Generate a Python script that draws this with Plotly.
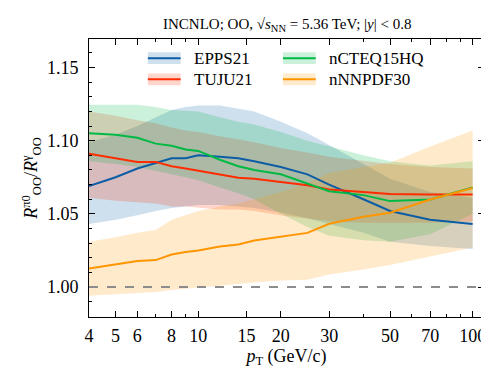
"""R_OO ratio pi0/gamma vs pT for four nPDF sets (INCNLO, OO at 5.36 TeV)."""

import plotly.graph_objects as go

PT = [4, 5, 6, 7, 8, 9, 10, 12, 14, 16, 20, 25, 30, 40, 50, 70, 100]

EPPS21 = [1.069, 1.075, 1.081, 1.085, 1.088, 1.088, 1.090, 1.089, 1.088, 1.086,
          1.082, 1.077, 1.070, 1.060, 1.052, 1.046, 1.043]
EPPS21_HI = [1.099, 1.104, 1.110, 1.116, 1.121, 1.123, 1.124, 1.124, 1.122, 1.120,
             1.113, 1.105, 1.097, 1.084, 1.074, 1.065, 1.061]
EPPS21_LO = [1.043, 1.046, 1.049, 1.052, 1.054, 1.055, 1.056, 1.056, 1.055, 1.054,
             1.051, 1.047, 1.043, 1.037, 1.031, 1.028, 1.026]

TUJU21 = [1.091, 1.088, 1.0855, 1.0855, 1.0825, 1.081, 1.0795, 1.0765, 1.0746, 1.074,
          1.0718, 1.0696, 1.0666, 1.0648, 1.0636, 1.0632, 1.0632]
TUJU21_HI = [1.120, 1.117, 1.114, 1.112, 1.109, 1.107, 1.106, 1.103, 1.101, 1.099,
             1.095, 1.092, 1.089, 1.086, 1.084, 1.082, 1.081]
TUJU21_LO = [1.061, 1.059, 1.058, 1.057, 1.055, 1.055, 1.054, 1.053, 1.053, 1.052,
             1.049, 1.047, 1.045, 1.044, 1.044, 1.044, 1.045]

NCTEQ = [1.105, 1.104, 1.102, 1.098, 1.0966, 1.094, 1.093, 1.087, 1.0825, 1.080,
         1.077, 1.0705, 1.0655, 1.0628, 1.0587, 1.0598, 1.068]
NCTEQ_HI = [1.1246, 1.1246, 1.1245, 1.123, 1.121, 1.1205, 1.120, 1.116, 1.113, 1.111,
            1.106, 1.100, 1.096, 1.090, 1.086, 1.083, 1.086]
NCTEQ_LO = [1.086, 1.084, 1.082, 1.079, 1.077, 1.075, 1.073, 1.068, 1.064, 1.060,
            1.050, 1.041, 1.035, 1.032, 1.031, 1.036, 1.050]

NNNPDF = [1.0127, 1.0152, 1.0177, 1.0184, 1.0222, 1.0239, 1.025, 1.0277, 1.0291, 1.0318,
          1.0343, 1.037, 1.0432, 1.048, 1.0507, 1.0598, 1.0677]
NNNPDF_HI = [1.031, 1.034, 1.037, 1.039, 1.046, 1.049, 1.052, 1.055, 1.057, 1.060,
             1.065, 1.071, 1.078, 1.082, 1.085, 1.096, 1.107]
NNNPDF_LO = [0.994, 0.995, 0.996, 0.9966, 0.998, 0.999, 0.9995, 1.001, 1.002, 1.003,
             1.0045, 1.005, 1.0086, 1.012, 1.015, 1.021, 1.027]

REFERENCE = 1.0
X_TICKS = [4, 5, 6, 8, 10, 15, 20, 30, 50, 70, 100]
X_MINOR = [7, 9, 40, 60, 80, 90]

# (name, central, upper, lower, rgb)
SERIES = [
    ("EPPS21", EPPS21, EPPS21_HI, EPPS21_LO, (12, 93, 165)),
    ("TUJU21", TUJU21, TUJU21_HI, TUJU21_LO, (255, 44, 0)),
    ("nCTEQ15HQ", NCTEQ, NCTEQ_HI, NCTEQ_LO, (0, 185, 69)),
    ("nNNPDF30", NNNPDF, NNNPDF_HI, NNNPDF_LO, (255, 149, 0)),
]

FONT = "Liberation Serif"


def rgba(c, a):
    return f"rgba({c[0]},{c[1]},{c[2]},{a})"


fig = go.Figure()

for name, mid, hi, lo, c in SERIES:
    fig.add_trace(
        go.Scatter(
            x=PT + PT[::-1],
            y=hi + lo[::-1],
            fill="toself",
            fillcolor=rgba(c, 0.2),
            line={"width": 0},
            mode="lines",
            hoverinfo="skip",
            showlegend=False,
        )
    )

for name, mid, hi, lo, c in SERIES:
    fig.add_trace(
        go.Scatter(
            x=PT,
            y=mid,
            mode="lines",
            line={"color": rgba(c, 1), "width": 2},
            name=name,
            showlegend=False,
            hovertemplate=f"{name}<br>pT=%{{x}}<br>ratio=%{{y:.4f}}<extra></extra>",
        )
    )

fig.add_hline(y=REFERENCE, line={"color": "#8c8c8c", "width": 1.8, "dash": "dash"})

# hand-drawn legend: band patch + line, two columns
legend_slots = {
    "EPPS21": (0.149, 0.931),
    "TUJU21": (0.149, 0.855),
    "nCTEQ15HQ": (0.491, 0.931),
    "nNNPDF30": (0.491, 0.855),
}
for name, mid, hi, lo, c in SERIES:
    lx, ly = legend_slots[name]
    fig.add_shape(type="rect", xref="paper", yref="paper",
                  x0=lx, x1=lx + 0.083, y0=ly - 0.021, y1=ly + 0.021,
                  fillcolor=rgba(c, 0.2), line={"width": 0})
    fig.add_shape(type="line", xref="paper", yref="paper",
                  x0=lx, x1=lx + 0.083, y0=ly, y1=ly,
                  line={"color": rgba(c, 1), "width": 2})
    fig.add_annotation(x=lx + 0.111, y=ly, xref="paper", yref="paper",
                       text=name, showarrow=False, xanchor="left", yanchor="middle",
                       font={"family": FONT, "size": 17, "color": "black"})

axis_common = {
    "showline": True,
    "linecolor": "black",
    "linewidth": 1,
    "mirror": "ticks",
    "ticks": "inside",
    "ticklen": 6,
    "tickwidth": 1,
    "tickcolor": "black",
    "showgrid": False,
    "zeroline": False,
    "tickfont": {"family": FONT, "size": 18, "color": "black"},
}

fig.update_layout(
    width=489,
    height=367,
    margin={"l": 81, "r": 11, "t": 31, "b": 58},
    paper_bgcolor="white",
    plot_bgcolor="white",
    title={
        "text": "INCNLO; OO, √<i>s</i><sub>NN</sub> = 5.36 TeV; |<i>y</i>| &lt; 0.8",
        "x": 0.571,
        "xanchor": "center",
        "y": 0.958,
        "yanchor": "middle",
        "font": {"family": FONT, "size": 15, "color": "black"},
    },
    xaxis={
        **axis_common,
        "type": "log",
        "range": [0.60206, 2.04139],
        "tickvals": X_TICKS,
        "ticktext": [str(v) for v in X_TICKS],
        "ticklabelstandoff": 2,
        "minor": {"tickvals": X_MINOR, "ticks": "inside", "ticklen": 3,
                  "tickcolor": "black", "showgrid": False},
        "title": {"text": "<i>p</i><sub>T</sub> (GeV/c)",
                  "font": {"family": FONT, "size": 18, "color": "black"},
                  "standoff": 4},
    },
    yaxis={
        **axis_common,
        "range": [0.9795, 1.1695],
        "tickvals": [1.00, 1.05, 1.10, 1.15],
        "ticktext": ["1.00", "1.05", "1.10", "1.15"],
        "ticklabelstandoff": 6,
        "minor": {"dtick": 0.01, "ticks": "inside", "ticklen": 3,
                  "tickcolor": "black", "showgrid": False},
        "title": {"text": "<i>R</i><sup>π0</sup><sub>OO</sub>/<i>R</i><sup>γ</sup><sub>OO</sub>",
                  "font": {"family": FONT, "size": 18, "color": "black"},
                  "standoff": 4},
    },
)

fig.write_html("out.html")
